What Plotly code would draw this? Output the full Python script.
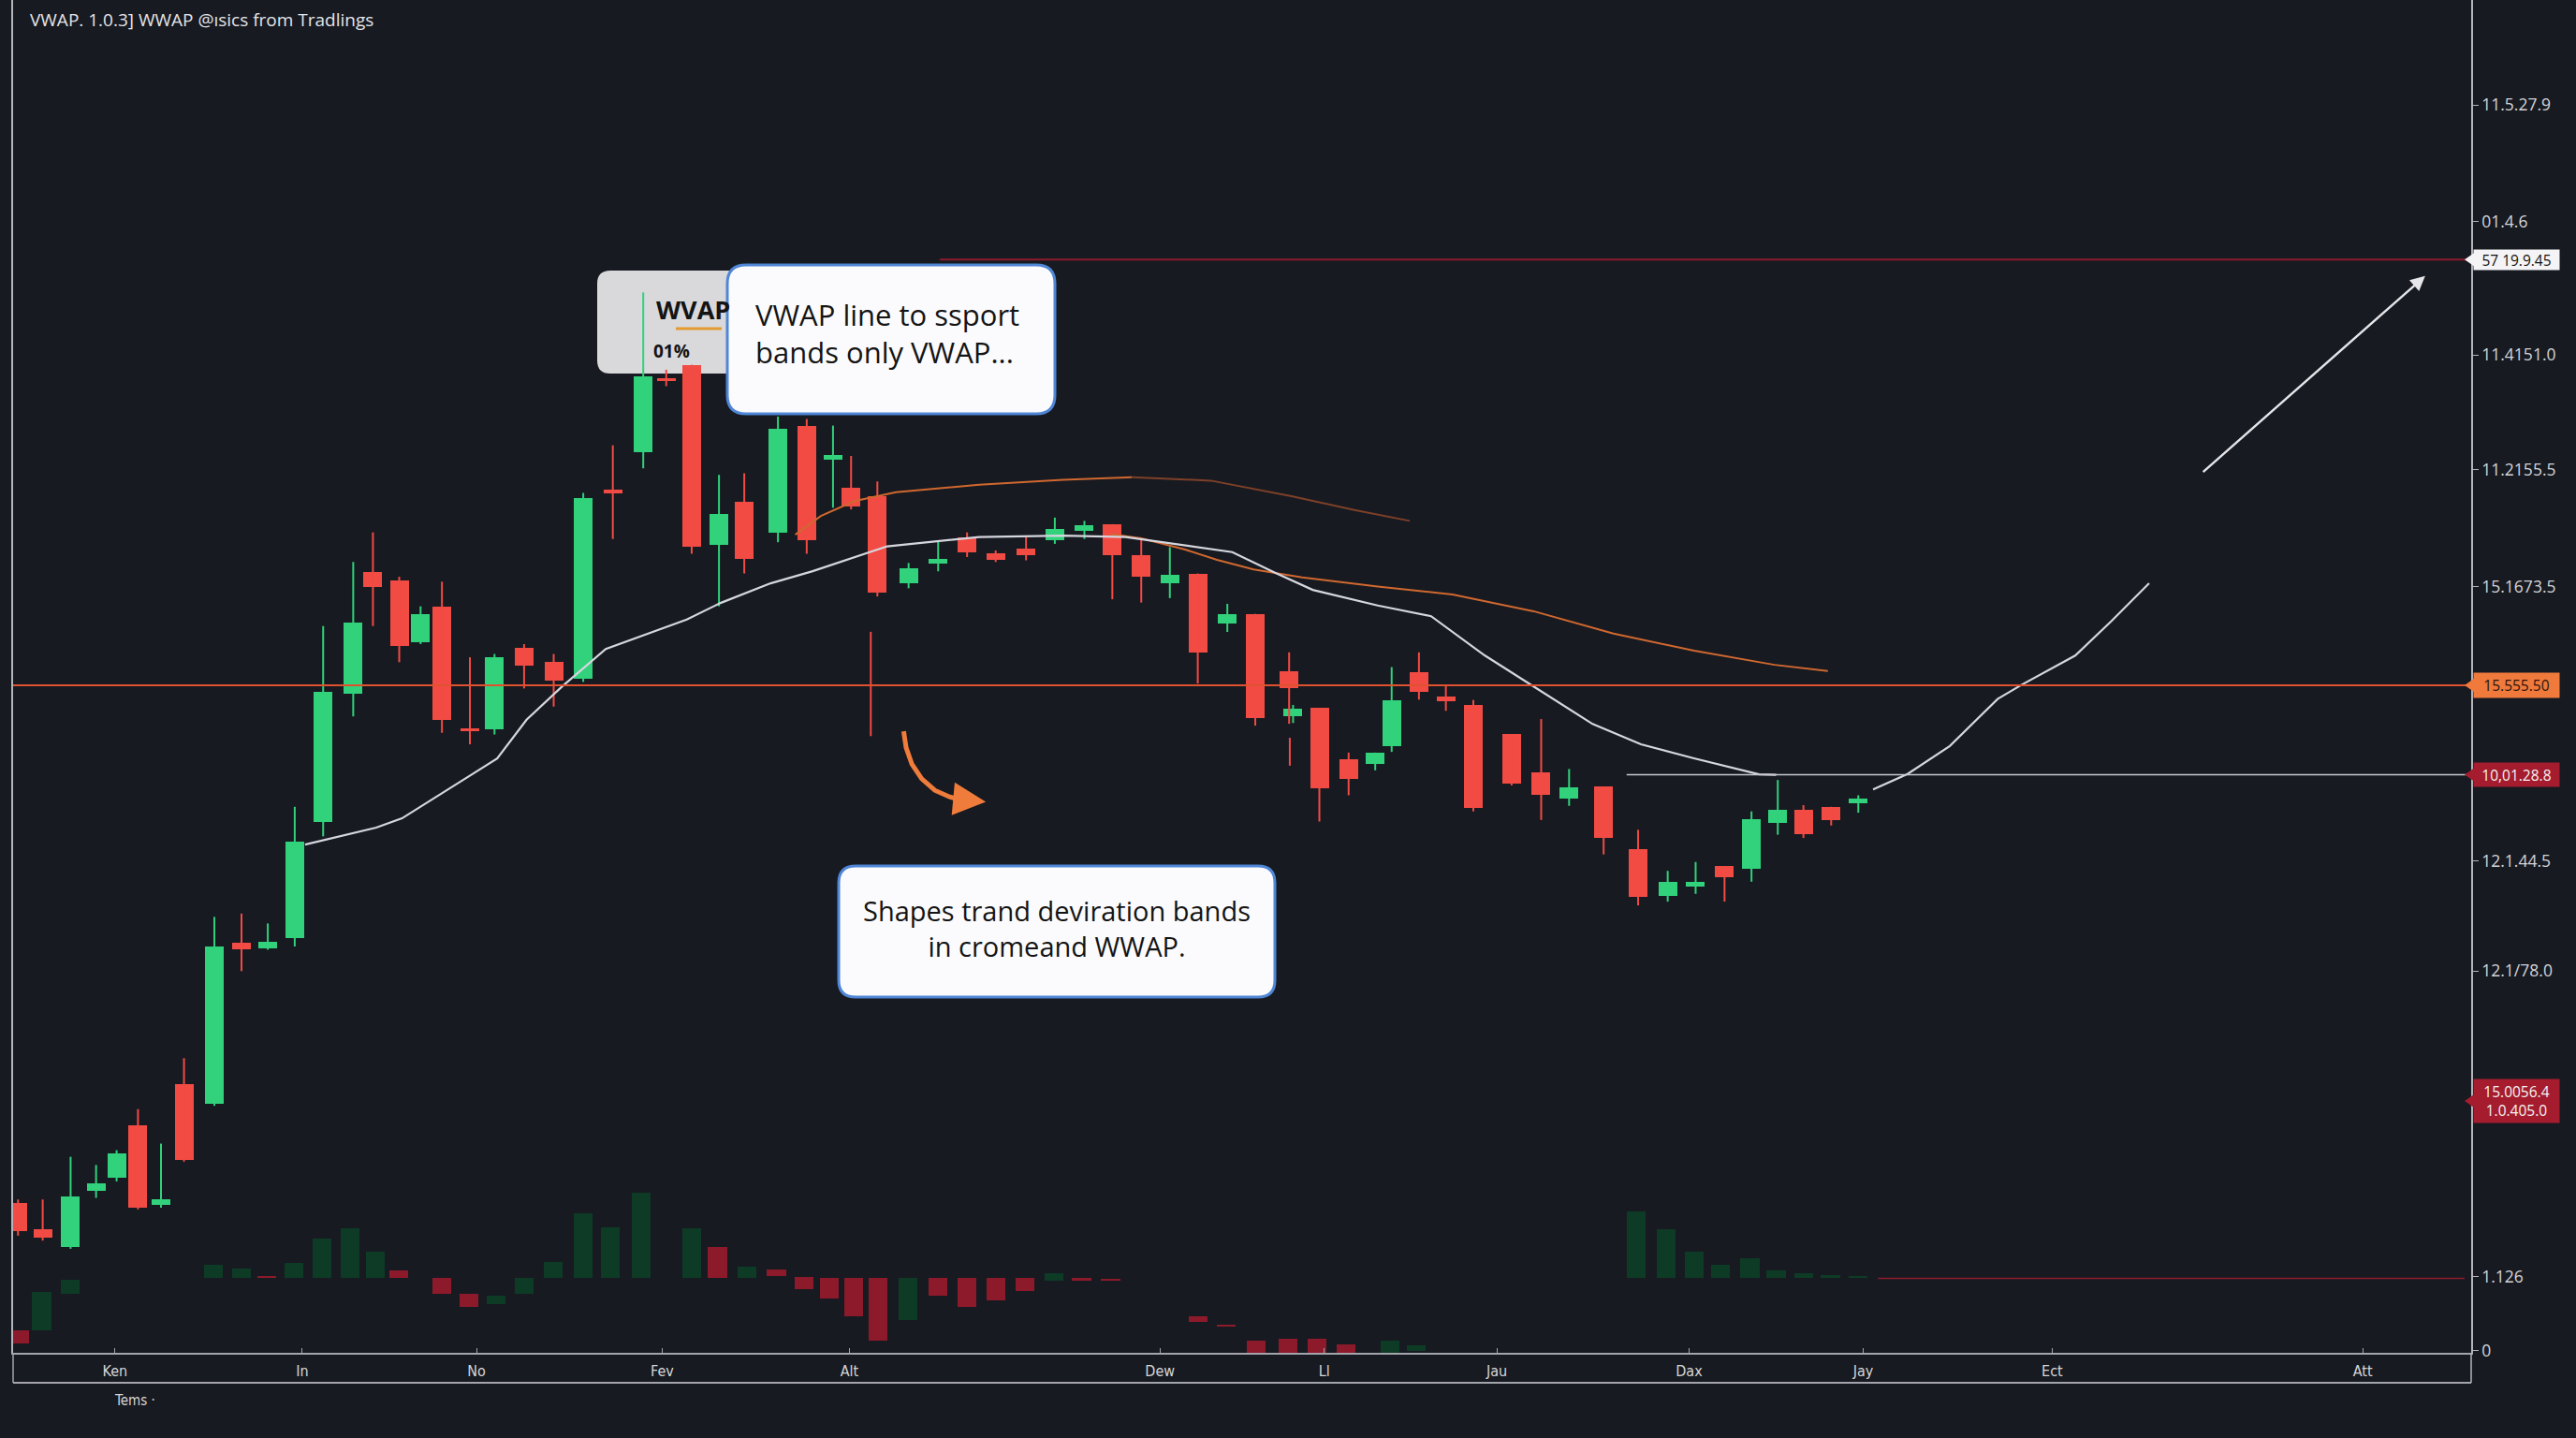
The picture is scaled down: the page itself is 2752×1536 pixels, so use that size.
import plotly.graph_objects as go

# ---------------- data ----------------
# candles: position, open, high, low, close
cx = [11, 26, 43, 58.5, 71, 84, 98, 112, 130.5, 147, 163, 179.4, 196.7, 215, 227, 243, 256, 269, 286, 301,
      319, 337, 355, 373, 391.5, 405.5, 421, 437.6, 453, 473.5, 491, 507, 518, 534, 553, 571, 588.6, 606, 624.5, 642,
      660, 677, 694.6, 712, 729, 747, 764, 784.6, 787, 803, 820.8, 837, 847, 863.6, 880, 896.7, 920, 938, 955, 976,
      997, 1015, 1032, 1049.6, 1066, 1082, 1097.6, 1114.5, 1131]
c_open = [91, 75, 64, 98, 106, 138, 90, 163, 151, 249, 246, 252, 323, 401, 475, 470, 432, 454, 380, 379,
          429, 420, 410, 525, 548, 593, 601, 491.5, 517.5, 499, 564, 543, 526, 521, 468, 480, 496, 486.4, 489, 494,
          500, 504, 485, 468, 474, 443.7, 449.4, 414.4, 387, 392, 361, 358, 369, 414, 399, 394, 376.3, 353, 337, 344.4,
          306, 278, 283.6, 296, 294, 322, 330, 332, 334]
c_high = [93, 93, 119, 114, 123, 148, 127, 179, 265, 267, 261, 332, 442, 481, 499, 472, 454, 469, 423, 425,
          431, 425, 523, 552, 645, 598, 601, 534, 535, 569.5, 568, 564, 545.5, 530, 480.4, 494, 499, 488, 496.5, 508,
          506, 504, 495.6, 490, 474, 455.5, 449.4, 426, 394, 392, 365, 365, 417, 426, 406, 397, 376.3, 385.4, 355, 344.4,
          318, 293, 298.4, 296, 329.2, 348.3, 333, 332, 339]
c_low = [71, 68, 63, 94, 104, 87, 88, 116, 150, 232, 245, 247, 314, 387, 442, 420, 431, 377, 370, 376,
         404, 393, 408, 495, 538, 588, 486, 454, 474, 493, 486, 514, 513, 460, 465, 475.3, 484, 481, 482, 492,
         495, 458.3, 456.3, 459, 407, 438.4, 381.4, 382.5, 383, 323, 339, 354.2, 365.4, 397.2, 390.4, 329.2, 345, 324, 332.6, 303,
         272, 274.3, 279, 274.3, 286.4, 315, 313, 320.6, 328.4]
c_close = [74, 70, 95, 103, 121, 88, 93, 117, 247, 245, 250, 311, 402, 444, 466, 430, 449, 385, 378, 423,
           418, 409, 520, 523, 594, 591, 490, 510, 483, 562, 494, 546, 515, 462.4, 477, 483, 487, 482.3, 485, 501,
           503.3, 485.4, 472, 473, 426, 449.4, 386.1, 404.2, 391.5, 343.4, 349, 365, 397, 402, 396.4, 331.2, 346.3, 339, 344, 313,
           277, 286.4, 286.4, 289, 324.4, 330, 315.5, 324, 337]

# isolated wick-only prints
spike_x = [530, 785]
spike_hi = [438.5, 374]
spike_lo = [375, 357]

# volume delta bars: position, low, high, direction
vx = [11.7, 25.4, 42.8, 130, 147, 162.5, 178.8, 196, 213, 228.4, 242.8, 269, 285.4, 302, 319, 336.5, 355, 371.6,
      390.3, 421, 436.7, 454.7, 472.6, 489.2, 504.7, 519.7, 534.2, 552.7, 571, 588.4, 606.2, 624, 641.6, 658.3, 676,
      729, 746.4, 764.5, 784, 801.4, 819.4, 846, 862, 996, 1014, 1031, 1047, 1065, 1081, 1098, 1114, 1131]
v_lo = [-39.7, -31.6, -9.3, 0, 0, 0, 0, 0, 0, 0, 0, -9.5, -17.4, -15.9, -9.2, 0, 0, 0,
        0, 0, 0, 0, 1.3, -6.3, -12, -22.8, -38, -25.3, -10.5, -17.3, -13.5, -7.8, -1.5, -1.7, -1.5,
        -26.7, -29.5, -45.3, -45.3, -45.3, -45.3, -45.3, -44, 0, 0, 0, 0, 0, 0, 0, 0, 0]
v_hi = [-31.5, -8, -0.7, 8.4, 6, 1.3, 9.5, 24, 30.4, 16, 4.7, 0, -9.2, -10.6, 0, 9.9, 39.8, 31.3,
        52, 30.7, 18.9, 7.4, 5.5, 0.8, 0, 0, 0, 0, 0, 0, 0, 0, 3, 0, -0.3,
        -23, -28, -37.8, -36.8, -36.8, -40, -38, -40.8, 41, 30, 16, 8, 12, 5, 3, 2, 1.5]
v_dir = ["down", "up", "up", "up", "up", "down", "up", "up", "up", "up", "down", "down", "down", "up", "up", "up", "up", "up",
         "up", "up", "down", "up", "down", "down", "down", "down", "down", "up", "down", "down", "down", "down", "up", "down", "down",
         "down", "down", "down", "down", "down", "down", "up", "up", "up", "up", "up", "up", "up", "up", "up", "up", "up"]

# VWAP line and projection
vwap_x = [185.7, 229, 244.7, 274.7, 302.6, 320.5, 341.9, 368.7, 398.8, 418, 438.5, 469, 494.6, 540, 596, 647, 685,
          710.5, 750, 776, 799, 838.5, 871, 903.8, 939.8, 969.3, 998.7, 1031, 1070.6, 1081]
vwap_y = [309, 319.3, 325, 344, 361.4, 385, 405, 428, 439, 446, 456, 468, 475.4, 490.5, 496.2, 497, 496.2,
          492.5, 487, 474.5, 464, 454.5, 448, 424, 401.4, 382.4, 370, 361.5, 351.7, 351.5]
proj_x = [1140, 1161, 1186.7, 1215.8, 1230, 1255.7, 1263, 1285, 1308]
proj_y = [342.5, 352, 369, 397.6, 406, 420.3, 424, 445, 468]

# deviation bands
band_up_x = [484, 499.6, 520, 545.3, 596, 647, 689]
band_up_y = [497.6, 509, 518, 523.5, 528, 531, 532.6]
band_up_fade_x = [689, 737, 786, 825, 858]
band_up_fade_y = [532.6, 530.5, 521, 512.5, 506]
band_lo_x = [676, 694.6, 720.8, 740.7, 763, 792.6, 838.5, 884, 933.4, 982, 1031, 1080, 1112.5]
band_lo_y = [498, 495.4, 488.7, 482.3, 476.4, 471.6, 466, 461.2, 451, 437.4, 427, 418.4, 414.6]

# curved orange pointer
curve_x = [550, 551.5, 555, 561, 569, 578, 586]
curve_y = [378, 368, 358, 349, 342, 338, 336]

# levels
level_red = 665
level_orange = 406
level_gray = 351.5

# axis labels
xtick_vals = [70, 184, 290, 403, 517, 706, 806, 911, 1028, 1134, 1249, 1438]
xtick_text = ["Ken", "In", "No", "Fev", "Alt", "Dew", "Ll", "Jau", "Dax", "Jay", "Ect", "Att"]
ytick_vals = [759, 688, 607, 537, 466, 299, 232, 46, 1]
ytick_text = ["11.5.27.9", "01.4.6", "11.4151.0", "11.2155.5", "15.1673.5", "12.1.44.5", "12.1/78.0", "1.126", "0"]
box_vals = [665, 406, 351.5, 153]
box_text = ["57 19.9.45", "15.555.50", "10,01.28.8", "15.0056.4<br>1.0.405.0"]

# ---------------- styling ----------------
BG = "#171a21"
UP = "#31d27b"
DN = "#f24b44"
VUP = "#0e3b25"
VDN = "#8c1a2b"
W, H = 2752, 1536
PL, PR, PT, PB = 14, 2640, 0, 1445


def pxx(px):
    return (px - PL) / (PR - PL)


def pxy(py):
    return (PB - py) / (PB - PT)


def rounded(x0, y0, x1, y1, r):
    a, b, c, d = pxx(x0), pxy(y1), pxx(x1), pxy(y0)
    rx, ry = r / (PR - PL), r / (PB - PT)
    return (f"M {a+rx},{d} L {c-rx},{d} Q {c},{d} {c},{d-ry} L {c},{b+ry} Q {c},{b} {c-rx},{b} "
            f"L {a+rx},{b} Q {a},{b} {a},{b+ry} L {a},{d-ry} Q {a},{d} {a+rx},{d} Z")


fig = go.Figure()

# volume delta bars
fig.add_trace(go.Bar(
    x=vx, y=[h - l for h, l in zip(v_hi, v_lo)], base=v_lo, yaxis="y2", width=11.5,
    marker=dict(color=[VUP if d == "up" else VDN for d in v_dir], line=dict(width=0)),
    hoverinfo="skip", showlegend=False))

# wicks
for direction, col in (("up", UP), ("down", DN)):
    wx, wy = [], []
    for x, o, h, l, c in zip(cx, c_open, c_high, c_low, c_close):
        if (c >= o) == (direction == "up"):
            wx += [x, x, None]
            wy += [l, h, None]
    if direction == "down":
        for x, h, l in zip(spike_x, spike_hi, spike_lo):
            wx += [x, x, None]
            wy += [l, h, None]
    fig.add_trace(go.Scatter(x=wx, y=wy, mode="lines", line=dict(color=col, width=2),
                             hoverinfo="skip", showlegend=False))

# bodies
fig.add_trace(go.Bar(
    x=cx, y=[c - o for o, c in zip(c_open, c_close)], base=c_open, width=11.4,
    marker=dict(color=[UP if c >= o else DN for o, c in zip(c_open, c_close)], line=dict(width=0)),
    showlegend=False))

# lines
fig.add_trace(go.Scatter(x=band_up_x, y=band_up_y, mode="lines", line=dict(color="#d0682f", width=2),
                         showlegend=False, hoverinfo="skip"))
fig.add_trace(go.Scatter(x=band_up_fade_x, y=band_up_fade_y, mode="lines", line=dict(color="#7e4028", width=2),
                         showlegend=False, hoverinfo="skip"))
fig.add_trace(go.Scatter(x=band_lo_x, y=band_lo_y, mode="lines", line=dict(color="#d0682f", width=2),
                         showlegend=False, hoverinfo="skip"))
fig.add_trace(go.Scatter(x=vwap_x, y=vwap_y, mode="lines", line=dict(color="#d6d6de", width=2.2),
                         showlegend=False, hoverinfo="skip"))
fig.add_trace(go.Scatter(x=proj_x, y=proj_y, mode="lines", line=dict(color="#d6d6de", width=2.2),
                         showlegend=False, hoverinfo="skip"))
fig.add_trace(go.Scatter(x=curve_x, y=curve_y, mode="lines", line=dict(color="#f07c3c", width=5),
                         showlegend=False, hoverinfo="skip"))

shapes = [
    # gray legend card (behind candles)
    dict(type="path", path=rounded(638, 289, 800, 399, 14), xref="paper", yref="paper",
         fillcolor="#d9d9dc", line=dict(width=0), layer="below"),
    # horizontal levels
    dict(type="line", xref="x", yref="y", x0=572, x1=1504, y0=level_red, y1=level_red,
         line=dict(color="#8e1b2c", width=2)),
    dict(type="line", xref="x", yref="y", x0=8, x1=1504, y0=level_orange, y1=level_orange,
         line=dict(color="#e0522f", width=2)),
    dict(type="line", xref="x", yref="y", x0=990, x1=1504, y0=level_gray, y1=level_gray,
         line=dict(color="#c8c8d0", width=1.6)),
    dict(type="line", xref="x", yref="y2", x0=1143, x1=1500, y0=0, y1=0,
         line=dict(color="#8e1b2c", width=1.6)),
    # bottom label band
    dict(type="line", xref="paper", yref="paper", x0=0, x1=1, y0=pxy(1477), y1=pxy(1477),
         line=dict(color="#a4a4ac", width=2)),
    dict(type="line", xref="paper", yref="paper", x0=0, x1=0, y0=0, y1=pxy(1477),
         line=dict(color="#a4a4ac", width=1.5)),
    dict(type="line", xref="paper", yref="paper", x0=1, x1=1, y0=0, y1=pxy(1477),
         line=dict(color="#b4b4bc", width=1.5)),
    # callout cards
    dict(type="path", path=rounded(777, 283, 1127, 442, 20), xref="paper", yref="paper",
         fillcolor="#fbfbfd", line=dict(color="#4f86d6", width=3), layer="above"),
    dict(type="path", path=rounded(896, 925, 1362, 1065, 18), xref="paper", yref="paper",
         fillcolor="#fbfbfd", line=dict(color="#4f86d6", width=3), layer="above"),
    dict(type="line", xref="paper", yref="paper", x0=pxx(722), x1=pxx(771), y0=pxy(351), y1=pxy(351),
         line=dict(color="#e39a2f", width=3), layer="above"),
]

box_styles = [("#f4f4f6", "#111111", 17), ("#f07a3c", "#2a140c", 22), ("#a51c2e", "#f4f4f4", 21),
              ("#a51c2e", "#f4f4f4", 42)]
annotations = [
    dict(text="VWAP. 1.0.3] WWAP @ısics from Tradlings", xref="paper", yref="paper", x=pxx(30), y=pxy(21),
         xanchor="left", yanchor="middle", showarrow=False, font=dict(family="Open Sans", size=19, color="#e4e4e8")),
    dict(text="Tems ·", xref="paper", yref="paper", x=pxx(120), y=pxy(1496), xanchor="left", yanchor="middle",
         showarrow=False, font=dict(family="Liberation Sans Narrow, DejaVu Sans Condensed, sans-serif", size=15,
                                    color="#d6d6d6")),
    dict(text="<b>WVAP</b>", xref="paper", yref="paper", x=pxx(699), y=pxy(331), xanchor="left", yanchor="middle",
         showarrow=False, font=dict(family="Open Sans", size=27, color="#141414")),
    dict(text="<b>01%</b>", xref="paper", yref="paper", x=pxx(696), y=pxy(375), xanchor="left", yanchor="middle",
         showarrow=False, font=dict(family="Open Sans", size=19, color="#141414")),
    dict(text="VWAP line to ssport<br>bands only VWAP...", xref="paper", yref="paper", x=pxx(805), y=pxy(356),
         xanchor="left", yanchor="middle", align="left", showarrow=False,
         font=dict(family="Open Sans", size=31, color="#141414", weight=500)),
    dict(text="Shapes trand deviration bands<br>in cromeand WWAP.", xref="paper", yref="paper", x=pxx(1129),
         y=pxy(991), xanchor="center", yanchor="middle", align="center", showarrow=False,
         font=dict(family="Open Sans", size=29, color="#141414", weight=500)),
    # projection arrow
    dict(text="", x=1476, y=655, ax=1340, ay=535, xref="x", yref="y", axref="x", ayref="y",
         showarrow=True, arrowhead=2, arrowsize=1.3, arrowwidth=2.4, arrowcolor="#e6e6ea"),
    # orange curved pointer head
    dict(text="", x=600, y=335, ax=584, ay=336.5, xref="x", yref="y", axref="x", ayref="y",
         showarrow=True, arrowhead=2, arrowsize=1.4, arrowwidth=5, arrowcolor="#f07c3c"),
]
for val, txt, (bg, fg, hh) in zip(box_vals, box_text, box_styles):
    annotations.append(dict(text=txt, xref="paper", yref="y", x=1, y=val, xanchor="left", yanchor="middle",
                            xshift=2, showarrow=False, bgcolor=bg, width=87, height=hh, borderpad=2,
                            align="center", font=dict(family="Open Sans", size=15.5, color=fg)))
    dy = 4.0
    shapes.append(dict(type="path", xref="paper", yref="y",
                       path=f"M {pxx(2633)},{val} L {pxx(2643)},{val+dy} L {pxx(2643)},{val-dy} Z",
                       fillcolor=bg, line=dict(width=0), layer="above"))

fig.update_layout(
    width=W, height=H, autosize=False,
    margin=dict(l=PL, r=W - PR, t=PT, b=H - PB),
    paper_bgcolor=BG, plot_bgcolor=BG,
    barmode="overlay", bargap=0, showlegend=False,
    shapes=shapes, annotations=annotations,
    xaxis=dict(range=[8, 1504], showgrid=False, zeroline=False, showline=True, linecolor="#a4a4ac",
               linewidth=2, tickmode="array", tickvals=xtick_vals, ticktext=xtick_text, ticks="inside",
               ticklen=5, tickcolor="#a4a4ac", ticklabelstandoff=4,
               tickfont=dict(family="Liberation Sans Narrow, DejaVu Sans Condensed, sans-serif", size=16,
                             color="#d6d6d6"),
               fixedrange=True),
    yaxis=dict(range=[-0.3, 823], side="right", showgrid=False, zeroline=False, showline=True, mirror=True,
               linecolor="#b4b4bc", linewidth=1.5, tickmode="array", tickvals=ytick_vals, ticktext=ytick_text,
               ticks="outside", ticklen=6, tickcolor="#b4b4bc",
               tickfont=dict(family="Open Sans", size=17.5, color="#d4d4d8")),
    yaxis2=dict(range=[-45.3, 778], overlaying="y", visible=False),
)

fig.write_html("out.html")
